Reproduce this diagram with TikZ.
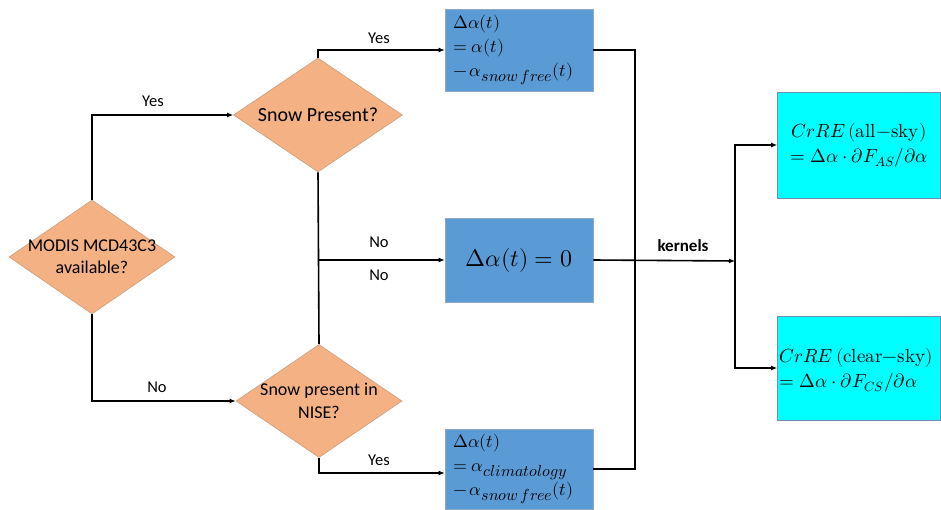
\documentclass[tikz,border=0pt]{standalone}
\usepackage{amsmath}
\usepackage{unicode-math}
\setmainfont{Carlito}
\setmathfont{Latin Modern Math}
\usetikzlibrary{shapes.geometric,arrows.meta,calc}
\definecolor{dorange}{HTML}{F4B183}
\definecolor{dorangeb}{HTML}{C8A07E}
\definecolor{bbox}{HTML}{5B9BD5}
\definecolor{bboxb}{HTML}{8FA9C4}
\definecolor{cbox}{HTML}{00FFFF}
\definecolor{cboxb}{HTML}{6E8FB5}
\newcommand\bigsub[1]{_{\text{\fontsize{16}{16}\selectfont$#1$}}}
\tikzset{
  decision/.style={diamond, fill=dorange, draw=dorangeb, line width=0.6pt, inner sep=0pt},
  dtext/.style={align=center, font=\fontsize{18}{22}\selectfont},
  bluebox/.style={rectangle, fill=bbox, draw=bboxb, line width=0.6pt, minimum width=148pt, inner xsep=8pt},
  cyanbox/.style={rectangle, fill=cbox, draw=cboxb, line width=0.6pt, minimum width=163pt, minimum height=106pt},
  conn/.style={line width=1.6pt, draw=black},
  arr/.style={conn, -{Latex[length=6pt,width=5pt]}},
  lbl/.style={font=\fontsize{16.5}{20}\selectfont, inner sep=0pt},
}
\begin{document}
\begin{tikzpicture}[x=1pt,y=-1pt]
\useasboundingbox (0,0) rectangle (941,510);
\clip (0,0) rectangle (941,510);
\fill[white] (0,0) rectangle (941,510);

% decisions
\node[decision, minimum width=166pt, minimum height=114pt] (d1) at (92,257) {};
\node[dtext] (t1) at (d1) {MODIS MCD43C3\\available?};
\node[decision, minimum width=169pt, minimum height=114pt] (d2) at (318,115) {};
\node[dtext, font=\fontsize{20}{22}\selectfont] (t2) at (d2) {Snow Present?};
\node[decision, minimum width=166pt, minimum height=113pt] (d3) at (319,401) {};
\node[dtext, font=\fontsize{18}{23}\selectfont] (t3) at (d3) {Snow present in\\NISE?};

% blue boxes
\node[bluebox, minimum height=82pt, align=left, text width=132pt, font=\fontsize{18}{24}\selectfont] (b1) at (519,50)
  {$\Delta\alpha(t)$\\$=\alpha(t)$\\$-\,\alpha\bigsub{snow\,free}(t)$};
\node[bluebox, minimum height=84pt, font=\fontsize{24}{26}\selectfont] (b2) at (519,260)
  {$\Delta\alpha(t)=0$};
\node[bluebox, minimum height=80pt, align=left, text width=132pt, font=\fontsize{18}{24}\selectfont] (b3) at (519,469)
  {$\Delta\alpha(t)$\\$=\alpha\bigsub{climatology}$\\$-\,\alpha\bigsub{snow\,free}(t)$};

% cyan boxes
\node[cyanbox, align=center, font=\fontsize{19}{25}\selectfont] (b4) at (859,145)
  {$CrRE\,(\symup{all}{-}\symup{sky})$\\$=\Delta\alpha\cdot\partial F_{AS}/\partial\alpha$};
\node[cyanbox, minimum height=104pt] (b5) at (859,368) {};
\node[anchor=west, align=left, inner sep=0pt, font=\fontsize{19}{25}\selectfont] (t5) at (779,370)
  {$CrRE\,(\symup{clear}{-}\symup{sky})$\\$=\Delta\alpha\cdot\partial F_{CS}/\partial\alpha$};

% connectors
\draw[arr] (d1.north) |- (d2.west);
\draw[arr] (d1.south) |- (d3.west);
\draw[arr] (d2.north) |- (b1.west);
\draw[conn] (d2.south) -- (d3.north);
\coordinate (mid) at (d2.south |- b2.west);
\draw[arr] (mid) -- (b2.west);
\coordinate (b3in) at ($(b3.west)+(0,4)$);
\draw[arr] (d3.south) |- (b3in);
\coordinate (mx) at (635,0);
\draw[conn] (b1.east) -| (mx |- b3.east) -- (b3.east);
\coordinate (k) at (735,261);
\draw[arr] (b2.east) -- (k);
\draw[arr] (k) |- (b4.west);
\draw[arr] (k) |- (b5.west);

% labels
\node[lbl] (l1) at (153,101) {Yes};
\node[lbl] (l2) at (157,387) {No};
\node[lbl] (l3) at (379,38) {Yes};
\node[lbl] (l4) at (379,242) {No};
\node[lbl] (l5) at (379,275) {No};
\node[lbl] (l6) at (379,460) {Yes};
\node[lbl, font=\bfseries\fontsize{17}{20}\selectfont] (l7) at (683,246) {kernels};
\end{tikzpicture}
\end{document}
